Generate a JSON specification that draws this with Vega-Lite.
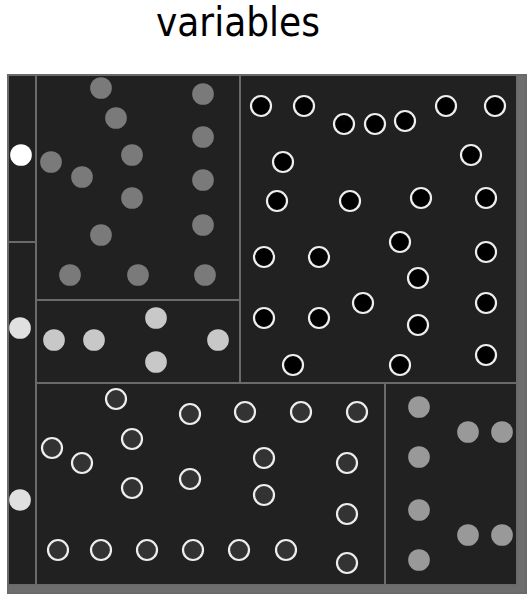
{
  "$schema": "https://vega.github.io/schema/vega-lite/v6.json",
  "width": 518,
  "height": 518,
  "autosize": {"type": "pad"},
  "padding": {"left": 7, "top": 4, "right": 6, "bottom": 5},
  "background": "#ffffff",
  "title": {
    "text": "variables",
    "font": "DejaVu Sans Condensed, DejaVu Sans",
    "fontSize": 40,
    "fontWeight": "normal",
    "color": "#000000",
    "anchor": "middle",
    "dx": -29,
    "offset": -2,
    "baseline": "alphabetic"
  },
  "config": {"view": {"stroke": null}},
  "resolve": {"scale": {"fill": "independent", "color": "independent"}},
  "datasets": {
    "cells": [
      {"cell": "root", "x0": 0, "x1": 518, "y0": 0, "y1": 518},
      {"cell": "A1", "x0": 0, "x1": 28, "y0": 0, "y1": 167},
      {"cell": "A2", "x0": 0, "x1": 28, "y0": 167, "y1": 510},
      {"cell": "B", "x0": 28, "x1": 232, "y0": 0, "y1": 225},
      {"cell": "C", "x0": 28, "x1": 232, "y0": 225, "y1": 308},
      {"cell": "D", "x0": 232, "x1": 509, "y0": 0, "y1": 308},
      {"cell": "E", "x0": 28, "x1": 377, "y0": 308, "y1": 510},
      {"cell": "F", "x0": 377, "x1": 509, "y0": 308, "y1": 510}
    ],
    "dots": [
      {"group": "A1", "x": 13, "y": 80},
      {"group": "A2", "x": 12, "y": 253},
      {"group": "A2", "x": 12, "y": 425},
      {"group": "B", "x": 93, "y": 13},
      {"group": "B", "x": 195, "y": 19},
      {"group": "B", "x": 108, "y": 43},
      {"group": "B", "x": 195, "y": 62},
      {"group": "B", "x": 43, "y": 87},
      {"group": "B", "x": 124, "y": 80},
      {"group": "B", "x": 74, "y": 102},
      {"group": "B", "x": 195, "y": 105},
      {"group": "B", "x": 124, "y": 123},
      {"group": "B", "x": 195, "y": 150},
      {"group": "B", "x": 93, "y": 160},
      {"group": "B", "x": 62, "y": 200},
      {"group": "B", "x": 130, "y": 200},
      {"group": "B", "x": 197, "y": 200},
      {"group": "C", "x": 148, "y": 243},
      {"group": "C", "x": 46, "y": 265},
      {"group": "C", "x": 86, "y": 265},
      {"group": "C", "x": 210, "y": 265},
      {"group": "C", "x": 148, "y": 287},
      {"group": "F", "x": 411, "y": 332},
      {"group": "F", "x": 460, "y": 357},
      {"group": "F", "x": 494, "y": 357},
      {"group": "F", "x": 411, "y": 382},
      {"group": "F", "x": 411, "y": 435},
      {"group": "F", "x": 460, "y": 460},
      {"group": "F", "x": 494, "y": 460},
      {"group": "F", "x": 411, "y": 485}
    ],
    "rings": [
      {"group": "D", "x": 253, "y": 31},
      {"group": "D", "x": 296, "y": 31},
      {"group": "D", "x": 336, "y": 49},
      {"group": "D", "x": 367, "y": 49},
      {"group": "D", "x": 397, "y": 46},
      {"group": "D", "x": 438, "y": 31},
      {"group": "D", "x": 487, "y": 31},
      {"group": "D", "x": 275, "y": 87},
      {"group": "D", "x": 463, "y": 80},
      {"group": "D", "x": 269, "y": 126},
      {"group": "D", "x": 342, "y": 126},
      {"group": "D", "x": 413, "y": 123},
      {"group": "D", "x": 478, "y": 123},
      {"group": "D", "x": 392, "y": 167},
      {"group": "D", "x": 256, "y": 182},
      {"group": "D", "x": 311, "y": 182},
      {"group": "D", "x": 478, "y": 177},
      {"group": "D", "x": 410, "y": 203},
      {"group": "D", "x": 355, "y": 228},
      {"group": "D", "x": 478, "y": 228},
      {"group": "D", "x": 256, "y": 243},
      {"group": "D", "x": 311, "y": 243},
      {"group": "D", "x": 410, "y": 250},
      {"group": "D", "x": 285, "y": 290},
      {"group": "D", "x": 392, "y": 290},
      {"group": "D", "x": 478, "y": 280},
      {"group": "E", "x": 108, "y": 324},
      {"group": "E", "x": 182, "y": 339},
      {"group": "E", "x": 237, "y": 337},
      {"group": "E", "x": 293, "y": 337},
      {"group": "E", "x": 349, "y": 337},
      {"group": "E", "x": 44, "y": 373},
      {"group": "E", "x": 124, "y": 364},
      {"group": "E", "x": 74, "y": 388},
      {"group": "E", "x": 256, "y": 383},
      {"group": "E", "x": 339, "y": 388},
      {"group": "E", "x": 124, "y": 413},
      {"group": "E", "x": 182, "y": 404},
      {"group": "E", "x": 256, "y": 420},
      {"group": "E", "x": 339, "y": 439},
      {"group": "E", "x": 50, "y": 475},
      {"group": "E", "x": 93, "y": 475},
      {"group": "E", "x": 139, "y": 475},
      {"group": "E", "x": 185, "y": 475},
      {"group": "E", "x": 231, "y": 475},
      {"group": "E", "x": 278, "y": 475},
      {"group": "E", "x": 339, "y": 488}
    ]
  },
  "layer": [
    {
      "data": {"name": "cells"},
      "mark": {"type": "rect", "strokeWidth": 2},
      "encoding": {
        "x": {"field": "x0", "type": "quantitative", "scale": {"domain": [0, 518], "nice": false, "zero": false}, "axis": null},
        "x2": {"field": "x1"},
        "y": {"field": "y0", "type": "quantitative", "scale": {"domain": [0, 518], "nice": false, "zero": false, "reverse": true}, "axis": null},
        "y2": {"field": "y1"},
        "color": {
          "field": "cell", "type": "nominal", "legend": null,
          "scale": {"domain": ["root", "A1", "A2", "B", "C", "D", "E", "F"],
                    "range": ["#6e6e6e", "#212121", "#212121", "#212121", "#212121", "#212121", "#212121", "#212121"]}
        },
        "stroke": {"value": "#6a6a6a"}
      }
    },
    {
      "data": {"name": "dots"},
      "mark": {"type": "circle", "opacity": 1, "size": 470},
      "encoding": {
        "x": {"field": "x", "type": "quantitative"},
        "y": {"field": "y", "type": "quantitative"},
        "fill": {
          "field": "group", "type": "nominal", "legend": null,
          "scale": {"domain": ["A1", "A2", "B", "C", "F"],
                    "range": ["#ffffff", "#e0e0e0", "#7a7a7a", "#c8c8c8", "#999999"]}
        }
      }
    },
    {
      "data": {"name": "rings"},
      "mark": {"type": "circle", "opacity": 1, "size": 400, "strokeWidth": 2.2, "stroke": "#eeeeee", "strokeOpacity": 1},
      "encoding": {
        "x": {"field": "x", "type": "quantitative"},
        "y": {"field": "y", "type": "quantitative"},
        "color": {
          "field": "group", "type": "nominal", "legend": null,
          "scale": {"domain": ["D", "E"], "range": ["#000000", "#333333"]}
        }
      }
    }
  ]
}
